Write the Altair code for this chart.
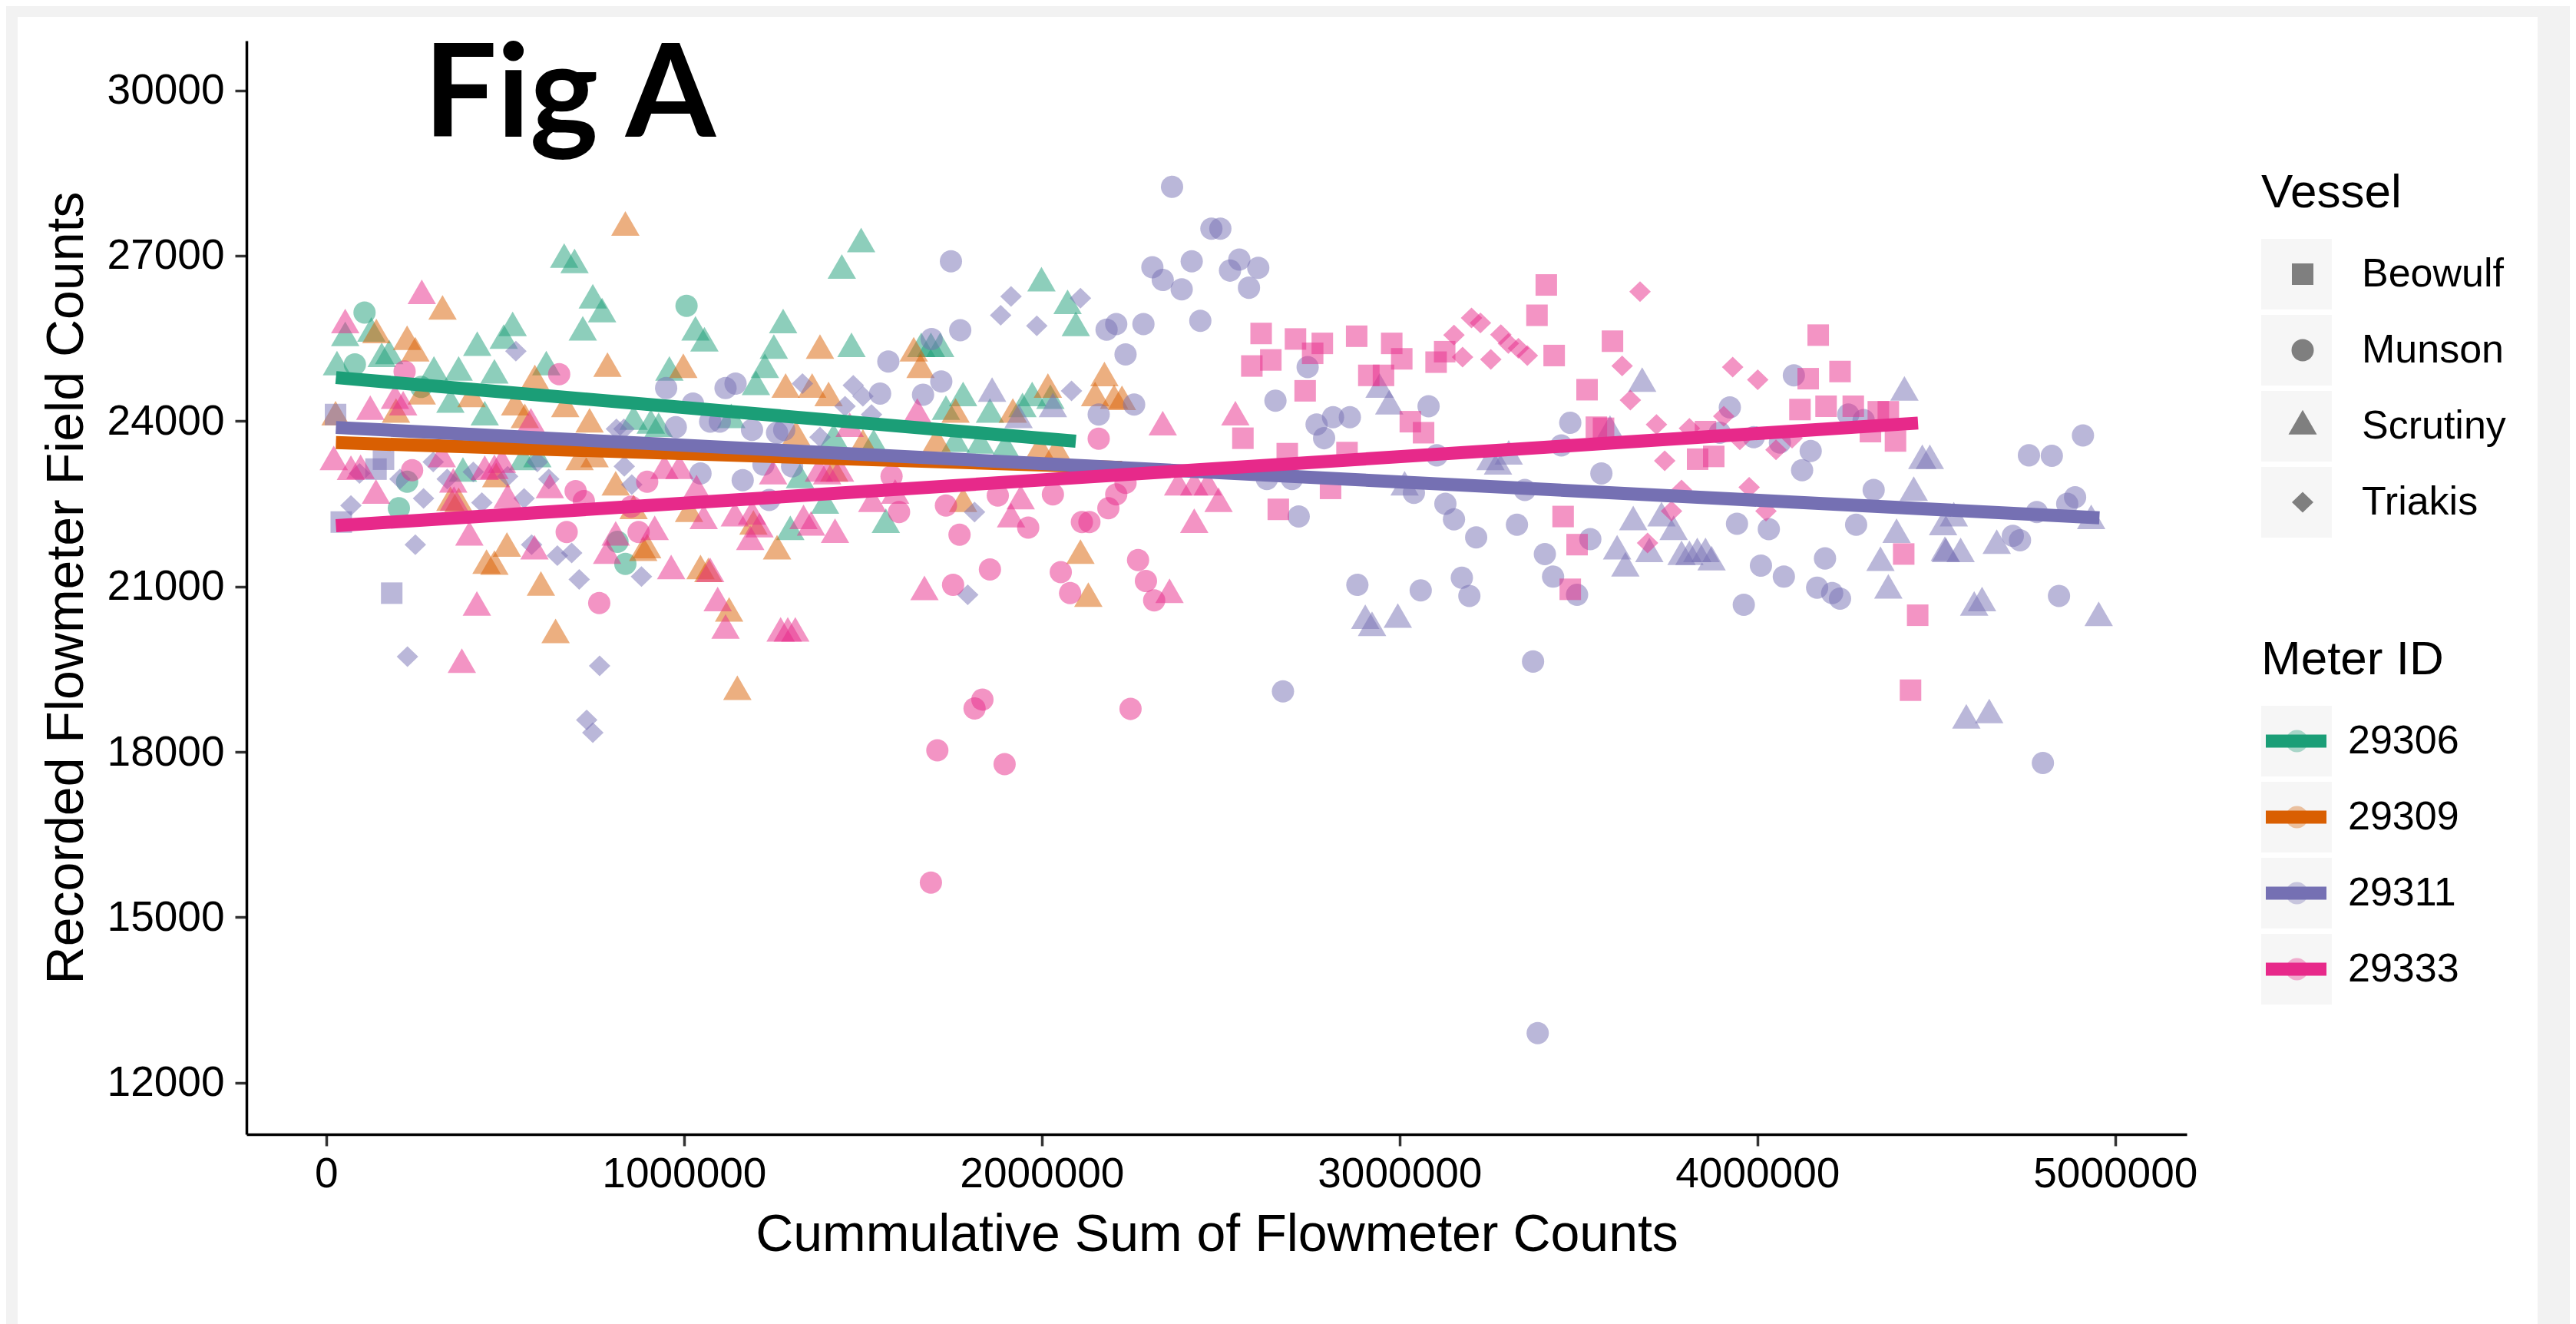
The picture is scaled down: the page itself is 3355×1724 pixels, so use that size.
import altair as alt
import pandas as pd

vessels = ["Beowulf", "Munson", "Scrutiny", "Triakis"]
meters = ["29306", "29309", "29311", "29333"]
meter_colors = ["#1B9E77", "#D95F02", "#7570B3", "#E7298A"]
# the same colours at half opacity over the grey legend key
meter_key_dots = ["#87C8B5", "#E6A97A", "#B4B1D3", "#EC8EBE"]

# ---- scatter values: (cumulative sum, field counts) ----
m29306_scrutiny = [
    (665000, 26930), (694000, 26830), (1495000, 27210), (1441000, 26730), (745000, 26190),
    (771000, 25940), (717000, 25610), (53000, 25510), (126000, 25590), (1032000, 25610),
    (1057000, 25410), (1277000, 25740), (1251000, 25280), (1226000, 24930), (1201000, 24620),
    (1468000, 25310), (422000, 25330), (521000, 25690), (496000, 25460), (30000, 24980),
    (155000, 25130), (176000, 25180), (370000, 24880), (470000, 24830), (615000, 24980),
    (959000, 24880), (301000, 24880), (347000, 24300), (443000, 24070), (859000, 23990),
    (907000, 23920), (929000, 23860), (550000, 23260), (382000, 23050), (1394000, 22470),
    (1297000, 21990), (1564000, 22120), (1418000, 23660), (1132000, 24020), (590000, 23310),
    (1324000, 22930), (1999000, 26500), (2072000, 26090), (2095000, 25690), (1663000, 25310),
    (1690000, 25310), (1716000, 25310), (1780000, 24420), (1973000, 24420), (2024000, 24370),
    (1732000, 24170), (1855000, 24120), (1946000, 24220), (1759000, 23590), (1828000, 23560),
    (1898000, 23490), (1530000, 23560),
]
m29306_munson = [
    (107000, 25970), (1007000, 26090), (80000, 25030), (226000, 22900), (203000, 22420),
    (836000, 21410), (814000, 21810), (265000, 24620),
]
m29309_scrutiny = [
    (836000, 27510), (325000, 25990), (140000, 25560), (226000, 25440), (249000, 25230),
    (1380000, 25280), (583000, 24730), (786000, 24950), (998000, 24930), (1284000, 24570),
    (1358000, 24570), (1404000, 24420), (267000, 24450), (406000, 24400), (528000, 24250),
    (668000, 24220), (195000, 24120), (26000, 24070), (555000, 24020), (736000, 23940),
    (1313000, 23710), (1500000, 23560), (475000, 22950), (708000, 23260), (750000, 23310),
    (809000, 22800), (1014000, 22320), (347000, 22520), (370000, 22500), (859000, 22370),
    (1194000, 22090), (1260000, 21640), (505000, 21690), (448000, 21380), (470000, 21360),
    (886000, 21610), (897000, 21660), (1046000, 21280), (1068000, 21230), (600000, 20980),
    (1126000, 20510), (641000, 20120), (1149000, 19090), (1420000, 23050), (1642000, 25230),
    (1661000, 24930), (2017000, 24570), (2175000, 24780), (2149000, 24420), (2202000, 24370),
    (2224000, 24350), (1759000, 24120), (1919000, 24120), (1706000, 23590), (1994000, 23460),
    (2042000, 23430), (1780000, 22500), (2108000, 21560), (2130000, 20780),
]
m29311_triakis = [
    (530000, 25270), (1331000, 24680), (1473000, 24650), (1500000, 24450), (1450000, 24270),
    (1524000, 24120), (811000, 23860), (832000, 23860), (1380000, 23710), (93000, 23050),
    (206000, 22950), (299000, 23260), (338000, 22950), (411000, 23080), (507000, 23000),
    (590000, 23260), (622000, 22950), (833000, 23180), (854000, 22850), (69000, 22470),
    (272000, 22600), (435000, 22520), (553000, 22600), (249000, 21760), (574000, 21760),
    (646000, 21560), (686000, 21610), (707000, 21130), (881000, 21180), (227000, 19730),
    (764000, 19560), (728000, 18580), (745000, 18350), (1914000, 26260), (1885000, 25920),
    (1986000, 25730), (2108000, 26230), (2083000, 24550), (1812000, 22350), (1793000, 20850),
]
m29311_beowulf = [
    (26000, 24120), (139000, 23130), (160000, 23310), (42000, 22170), (183000, 20880),
]
m29311_munson = [
    (1571000, 25080), (950000, 24600), (1116000, 24600), (1144000, 24680), (1548000, 24500),
    (977000, 23890), (1025000, 24320), (1073000, 23990), (1100000, 23990), (1190000, 23840),
    (1260000, 23790), (1280000, 23840), (1046000, 23050), (1164000, 22930), (1222000, 23210),
    (1302000, 23180), (1238000, 22570), (2364000, 28250), (2474000, 27490), (2499000, 27490),
    (1746000, 26900), (2309000, 26790), (2338000, 26560), (2391000, 26390), (2419000, 26900),
    (2552000, 26930), (2526000, 26730), (2605000, 26780), (2579000, 26420), (1772000, 25650),
    (2181000, 25660), (2208000, 25760), (2284000, 25760), (2443000, 25820), (2234000, 25210),
    (1692000, 25490), (1719000, 24720), (1668000, 24480), (2258000, 24300), (2159000, 24120),
    (2743000, 24980), (2653000, 24370), (2768000, 23940), (2814000, 24070), (2861000, 24070),
    (2789000, 23690), (3081000, 24270), (3104000, 23380), (2629000, 22950), (2699000, 22950),
    (3040000, 22700), (2718000, 22270), (3128000, 22500), (3152000, 22220), (3214000, 21890),
    (2882000, 21030), (3059000, 20930), (3174000, 21160), (3195000, 20830), (2674000, 19100),
    (4102000, 24830), (3923000, 24250), (3477000, 23970), (3452000, 23560), (3564000, 23050),
    (3895000, 23790), (3990000, 23710), (4063000, 23610), (4149000, 23460), (4125000, 23110),
    (4254000, 24120), (4297000, 24020), (4325000, 22750), (3350000, 22750), (3328000, 22120),
    (3943000, 22140), (4032000, 22040), (4276000, 22120), (3406000, 21590), (3533000, 21860),
    (3429000, 21180), (3496000, 20850), (4010000, 21380), (4074000, 21180), (4167000, 20980),
    (4209000, 20880), (4231000, 20780), (4189000, 21510), (4759000, 23380), (4823000, 23370),
    (4910000, 23740), (4888000, 22620), (4866000, 22500), (4781000, 22350), (4714000, 21920),
    (4734000, 21840), (4843000, 20830), (3962000, 20670), (3373000, 19640), (3386000, 12900),
    (4798000, 17800),
]
m29311_scrutiny = [
    (1861000, 24500), (2031000, 24220), (1935000, 24020), (2944000, 24570), (2971000, 24270),
    (3014000, 22800), (3254000, 23260), (3275000, 23180), (2904000, 20380), (2923000, 20250),
    (2995000, 20400), (3678000, 24680), (3588000, 23810), (3305000, 23360), (4411000, 24520),
    (4461000, 23280), (4482000, 23280), (4437000, 22700), (4549000, 22240), (3653000, 22170),
    (3732000, 22240), (3766000, 21990), (3608000, 21640), (3698000, 21590), (3631000, 21330),
    (3788000, 21540), (3810000, 21540), (3832000, 21590), (3855000, 21590), (3872000, 21440),
    (4389000, 21940), (4527000, 21590), (4568000, 21590), (4669000, 21740), (4344000, 21430),
    (4366000, 20930), (4933000, 22190), (4519000, 22080), (4524000, 21610), (4606000, 20620),
    (4628000, 20700), (4954000, 20430), (4584000, 18570), (4648000, 18670),
]
m29333_scrutiny = [
    (267000, 26270), (53000, 25740), (192000, 24370), (215000, 24250), (123000, 24170),
    (1463000, 23860), (21000, 23260), (69000, 23080), (96000, 23100), (323000, 23310),
    (355000, 22850), (443000, 23080), (470000, 23100), (491000, 23210), (625000, 22750),
    (945000, 23100), (987000, 23100), (1035000, 22730), (1249000, 23000), (1377000, 23050),
    (1400000, 23000), (1436000, 23050), (139000, 22650), (357000, 22520), (507000, 22570),
    (1055000, 22190), (1142000, 22240), (1190000, 22270), (1211000, 22040), (1334000, 22190),
    (1355000, 22070), (1422000, 21940), (1185000, 21810), (1526000, 22500), (1590000, 22650),
    (400000, 21890), (582000, 21640), (918000, 21990), (809000, 21890), (785000, 21560),
    (964000, 21280), (1073000, 21230), (1094000, 20700), (421000, 20620), (572000, 23940),
    (1116000, 20200), (1270000, 20150), (1290000, 20150), (1311000, 20150), (379000, 19580),
    (1652000, 24120), (2338000, 23890), (2541000, 24070), (2381000, 22800), (2426000, 22800),
    (2464000, 22800), (2494000, 22500), (2426000, 22120), (1941000, 22550), (1914000, 22220),
    (1672000, 20900), (2357000, 20850),
]
m29333_munson = [
    (219000, 24900), (651000, 24850), (240000, 23110), (697000, 22730), (720000, 22550),
    (897000, 22900), (1580000, 23000), (852000, 22450), (1601000, 22350), (672000, 21990),
    (873000, 21990), (763000, 20700), (2159000, 23680), (1732000, 22470), (1877000, 22650),
    (2031000, 22670), (2208000, 22670), (2234000, 22880), (2186000, 22420), (2133000, 22170),
    (2112000, 22170), (1962000, 22070), (1770000, 21940), (1855000, 21310), (2053000, 21260),
    (2269000, 21480), (2291000, 21100), (1752000, 21030), (2079000, 20880), (2314000, 20750),
    (1834000, 18950), (1812000, 18790), (2248000, 18780), (1708000, 18030), (1896000, 17780),
    (1690000, 15630),
]
m29333_beowulf = [
    (2613000, 25590), (2640000, 25110), (2587000, 25000), (2709000, 25490), (2784000, 25410),
    (2757000, 25230), (2880000, 25540), (2978000, 25410), (3006000, 25130), (2914000, 24830),
    (2955000, 24830), (3102000, 25070), (3126000, 25260), (2736000, 24550), (3030000, 23990),
    (3067000, 23790), (2562000, 23690), (2686000, 23410), (2853000, 23430), (2661000, 22400),
    (2807000, 22780), (3410000, 26470), (3384000, 25920), (3595000, 25450), (3432000, 25190),
    (3524000, 24570), (3550000, 23890), (3570000, 23870), (3855000, 23810), (3833000, 23310),
    (3878000, 23360), (4170000, 25560), (4142000, 24770), (4231000, 24900), (4119000, 24210),
    (4192000, 24270), (4268000, 24270), (4338000, 24170), (4366000, 24170), (4316000, 23810),
    (4386000, 23640), (3457000, 22270), (3496000, 21760), (3477000, 20950), (4409000, 21590),
    (4448000, 20480), (4428000, 19120),
]
m29333_triakis = [
    (3152000, 25560), (3176000, 25160), (3201000, 25870), (3226000, 25780), (3255000, 25120),
    (3283000, 25570), (3304000, 25410), (3332000, 25320), (3357000, 25190), (3672000, 26350),
    (3622000, 25000), (3645000, 24380), (3718000, 23940), (3931000, 24980), (4001000, 24750),
    (3906000, 24090), (3810000, 23870), (3741000, 23280), (3977000, 22800), (4052000, 23480),
    (4097000, 23690), (4024000, 22370), (3760000, 22370), (3693000, 21790), (3788000, 22750),
    (3951000, 23660),
]

# ---- linear fit end points per meter ----
fit_meter = ["29306", "29306", "29309", "29309", "29311", "29311", "29333", "29333"]
fit_x = [27000, 2095000, 27000, 2224000, 27000, 4956000, 27000, 4449000]
fit_y = [24790, 23635, 23610, 23160, 23885, 22247, 22103, 23965]

x_ticks = [0, 1000000, 2000000, 3000000, 4000000, 5000000]
y_ticks = [12000, 15000, 18000, 21000, 24000, 27000, 30000]

# keys of the grey legend key boxes and the dots under the line keys (one per legend row)
vessel_key_boxes = ["vk1", "vk2", "vk3", "vk4"]
meter_key_boxes = ["mk1", "mk2", "mk3", "mk4"]
meter_key_dot_ids = ["md1", "md2", "md3", "md4"]

groups = [
    ("29306", "Scrutiny", m29306_scrutiny), ("29306", "Munson", m29306_munson),
    ("29309", "Scrutiny", m29309_scrutiny),
    ("29311", "Triakis", m29311_triakis), ("29311", "Beowulf", m29311_beowulf),
    ("29311", "Munson", m29311_munson), ("29311", "Scrutiny", m29311_scrutiny),
    ("29333", "Scrutiny", m29333_scrutiny), ("29333", "Munson", m29333_munson),
    ("29333", "Beowulf", m29333_beowulf), ("29333", "Triakis", m29333_triakis),
]
rows = []
for meter, vessel, pts in groups:
    for xv, yv in pts:
        rows.append({"meter": meter, "vessel": vessel, "cumsum": xv, "counts": yv})
points_df = pd.DataFrame(rows)
fits_df = pd.DataFrame({"meter": fit_meter, "cumsum": fit_x, "counts": fit_y})

FONT = "Liberation Sans"

# custom symbol outlines (unit box), all drawn at one symbol size
shape_paths = [
    "M-0.778,-0.778L0.778,-0.778L0.778,0.778L-0.778,0.778Z",
    "M-0.806,0A0.806,0.806,0,1,1,0.806,0A0.806,0.806,0,1,1,-0.806,0Z",
    "M0,-1.185L1.028,0.593L-1.028,0.593Z",
    "M0,-0.75L0.778,0L0,0.75L-0.778,0Z",
]
# legend key for the fitted lines: a thick horizontal bar
line_key_path = "M-1,-0.215L1,-0.215L1,0.215L-1,0.215Z"

x_scale = alt.Scale(domain=[-223000, 5200000], nice=False, zero=False)
y_scale = alt.Scale(domain=[11065, 30900], nice=False, zero=False)
x_axis = alt.Axis(values=x_ticks, format="d", title="Cummulative Sum of Flowmeter Counts",
                  labelPadding=10, titlePadding=18, labelFlush=False, zindex=1)
y_axis = alt.Axis(values=y_ticks, format="d", title="Recorded Flowmeter Field Counts",
                  labelPadding=14, titlePadding=18, zindex=1)
color_scale = alt.Scale(domain=meters, range=meter_colors)
shape_scale = alt.Scale(domain=vessels, range=shape_paths)

LEG_X = 2624
common_leg = dict(orient="none", legendX=LEG_X, padding=0, clipHeight=92, rowPadding=7,
                  titlePadding=28, titleFontSize=62, titleFont=FONT, titleFontWeight="normal",
                  labelFontSize=52, labelFont=FONT, titleLimit=2000, labelLimit=2000)
box_leg = dict(orient="none", padding=0, clipHeight=92, rowPadding=7,
               symbolStrokeWidth=0, symbolOffset=0, labelExpr="''", labelFontSize=1,
               title=None)

bg = alt.Chart(pd.DataFrame({"k": [0]})).mark_rect(color="white").encode(
    x=alt.value(-298), x2=alt.value(2984), y=alt.value(-31), y2=alt.value(1700))

pts = alt.Chart(points_df).mark_point(filled=True, size=1296, opacity=0.5, strokeWidth=0).encode(
    x=alt.X("cumsum:Q", scale=x_scale, axis=x_axis),
    y=alt.Y("counts:Q", scale=y_scale, axis=y_axis),
    color=alt.Color("meter:N", scale=color_scale, legend=alt.Legend(
        title="Meter ID", legendY=776, symbolType=line_key_path, symbolSize=6241,
        symbolStrokeWidth=0, symbolOpacity=1, symbolOffset=6, labelOffset=28,
        titleColor="black", labelColor="black", zindex=3, **common_leg)),
    shape=alt.Shape("vessel:N", scale=shape_scale, legend=alt.Legend(
        title="Vessel", legendY=168, symbolSize=1296, symbolFillColor="#7f7f7f",
        symbolOpacity=1, symbolStrokeWidth=0, symbolOffset=28, labelOffset=51,
        titleColor="black", labelColor="black", zindex=3, **common_leg)),
)

lines = alt.Chart(fits_df).mark_line(strokeWidth=17, strokeCap="butt").encode(
    x=alt.X("cumsum:Q", scale=x_scale, axis=x_axis),
    y=alt.Y("counts:Q", scale=y_scale, axis=y_axis),
    color=alt.Color("meter:N", scale=color_scale, legend=None),
    detail="meter:N",
)

fig_label = alt.Chart(pd.DataFrame({"label": ["Fig A"]})).mark_text(
    font="Lato", fontSize=169, fontWeight="bold", align="left",
    baseline="alphabetic", color="black").encode(
    x=alt.datum(272000), y=alt.datum(29160), text="label:N")

vbox = alt.Chart(pd.DataFrame({"vbox": vessel_key_boxes})).transform_filter("false").mark_square(
    filled=True).encode(
    fill=alt.Fill("vbox:N", scale=alt.Scale(domain=vessel_key_boxes, range=["#f2f2f2"] * 4),
                  legend=alt.Legend(legendX=LEG_X, legendY=258, symbolType="square",
                                    symbolSize=8464, zindex=1, **box_leg)))
mbox = alt.Chart(pd.DataFrame({"mbox": meter_key_boxes})).transform_filter("false").mark_square(
    filled=True).encode(
    fill=alt.Fill("mbox:N", scale=alt.Scale(domain=meter_key_boxes, range=["#f2f2f2"] * 4),
                  legend=alt.Legend(legendX=LEG_X, legendY=866, symbolType="square",
                                    symbolSize=8464, zindex=1, **box_leg)))
mdot = alt.Chart(pd.DataFrame({"mdot": meter_key_dot_ids})).transform_filter("false").mark_circle().encode(
    fill=alt.Fill("mdot:N", scale=alt.Scale(domain=meter_key_dot_ids, range=meter_key_dots),
                  legend=alt.Legend(legendX=LEG_X + 32, legendY=866, symbolType="circle",
                                    symbolSize=841, zindex=2, **box_leg)))

chart = alt.layer(bg, pts, lines, fig_label, vbox, mbox, mdot).resolve_scale(
    fill="independent"
).properties(
    width=2527, height=1424,
    background="#f2f2f2",
    padding={"left": 313, "top": 45, "right": 499, "bottom": 247},
    autosize=alt.AutoSizeParams(type="none"),
).configure_view(stroke=None).configure_axis(
    grid=False, domainColor="black", domainWidth=3.5, tickColor="#333333", tickWidth=3.5,
    tickSize=15, labelFontSize=55, labelFont=FONT, labelColor="black", labelLimit=2000,
    titleFontSize=68, titleFont=FONT, titleFontWeight="normal", titleColor="black",
)

chart.save("out.html", embed_options={"renderer": "svg", "actions": False})
